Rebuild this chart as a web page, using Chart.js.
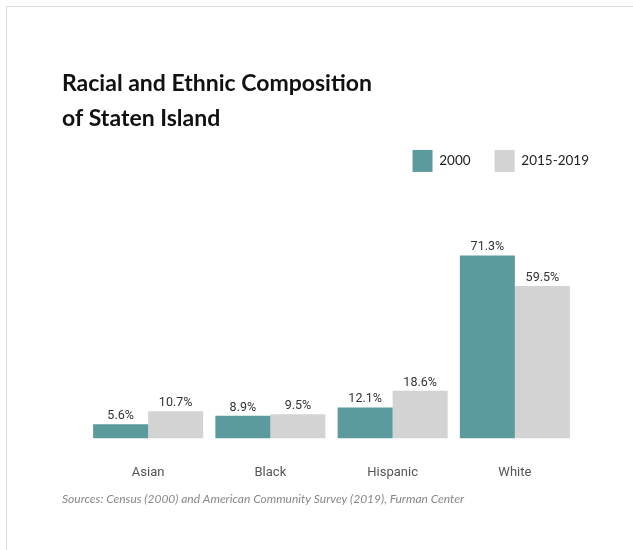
<!DOCTYPE html>
<html>
<head>
<meta charset="utf-8">
<script src="https://cdn.jsdelivr.net/npm/chart.js@4.4.0/dist/chart.umd.min.js"></script>
<style>
  html, body { margin: 0; padding: 0; background: #fff; }
  #wrap { position: relative; width: 633px; height: 550px; }
  #frame { position: absolute; left: 6px; top: 6px; right: 0; bottom: 0;
           border-top: 1px solid #dcdcdc; border-left: 1px solid #dcdcdc; pointer-events: none; }
</style>
</head>
<body>
<div id="wrap">
  <canvas id="chart" width="633" height="550"></canvas>
  <div id="frame"></div>
</div>
<script>
const categories = ["Asian", "Black", "Hispanic", "White"];
const values2000 = [5.6, 8.9, 12.1, 71.3];
const values2019 = [10.7, 9.5, 18.6, 59.5];
const seriesNames = ["2000", "2015-2019"];

// draws the percent labels above each bar
const valueLabels = {
  id: "valueLabels",
  afterDatasetsDraw(chart) {
    const ctx = chart.ctx;
    ctx.save();
    ctx.font = "12.5px 'Liberation Sans Narrow', Roboto, sans-serif";
    ctx.fillStyle = "#333";
    ctx.textAlign = "center";
    ctx.textBaseline = "bottom";
    chart.data.datasets.forEach((ds, i) => {
      chart.getDatasetMeta(i).data.forEach((bar, j) => {
        ctx.fillText(ds.data[j].toFixed(1) + "%", bar.x, bar.y - 2);
      });
    });
    ctx.restore();
  }
};

const ctx = document.getElementById("chart").getContext("2d");
new Chart(ctx, {
  type: "bar",
  data: {
    labels: categories,
    datasets: [
      { label: seriesNames[0], data: values2000, backgroundColor: "#5b9b9d" },
      { label: seriesNames[1], data: values2019, backgroundColor: "#d3d3d3" }
    ]
  },
  options: {
    responsive: false,
    animation: false,
    layout: { padding: { left: 62, right: 20, top: 66, bottom: 44 } },
    datasets: { bar: { categoryPercentage: 0.9, barPercentage: 1.0 } },
    plugins: {
      title: {
        display: true,
        text: ["Racial and Ethnic Composition", "of Staten Island"],
        align: "start",
        color: "#111",
        font: { family: "Lato", size: 23, weight: "bold", lineHeight: 1.52 },
        padding: { top: 0, bottom: -10 }
      },
      legend: {
        display: true,
        align: "end",
        labels: {
          boxWidth: 20,
          boxHeight: 22,
          padding: 24,
          color: "#222",
          font: { family: "Lato", size: 13.5 }
        }
      },
      subtitle: {
        display: true,
        position: "bottom",
        align: "start",
        text: "Sources: Census (2000) and American Community Survey (2019), Furman Center",
        color: "#888",
        font: { family: "Lato", size: 12, style: "italic" },
        padding: { top: 1, bottom: 0 }
      },
      tooltip: { enabled: false }
    },
    scales: {
      x: {
        grid: { display: false },
        border: { display: false },
        ticks: { color: "#555", padding: 18, font: { family: "'Liberation Sans Narrow', Roboto", size: 13 } },
        afterFit(scale) { scale.height = 52; }
      },
      y: {
        min: 0,
        max: 100,
        grid: { display: false },
        border: { display: false },
        ticks: { display: false },
        afterFit(scale) { scale.width = 25; }
      },
      y2: {
        position: "right",
        grid: { display: false },
        border: { display: false },
        ticks: { display: false },
        afterFit(scale) { scale.width = 37; }
      }
    }
  },
  plugins: [valueLabels]
});
</script>
</body>
</html>
